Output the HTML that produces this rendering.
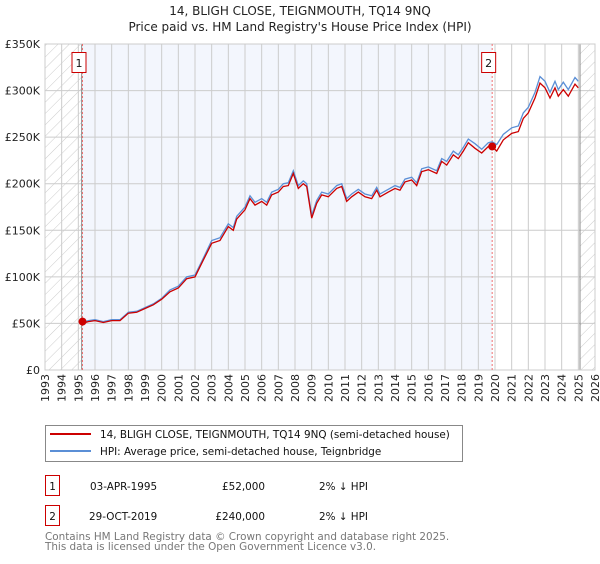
<!DOCTYPE html>
<html><head><meta charset="utf-8">
<style>
body{margin:0;background:#fff;width:600px;height:560px;overflow:hidden;font-family:"DejaVu Sans","Liberation Sans",sans-serif;}
svg text{font-family:"DejaVu Sans","Liberation Sans",sans-serif;}
</style></head>
<body>
<svg id="chart" width="600" height="560">
<defs>
<pattern id="hatch" patternUnits="userSpaceOnUse" width="8" height="8" patternTransform="rotate(45)">
<line x1="0" y1="0" x2="0" y2="8" stroke="#ccc" stroke-width="1"/>
</pattern>
</defs>
<text x="300" y="15" text-anchor="middle" font-size="12" fill="#222">14, BLIGH CLOSE, TEIGNMOUTH, TQ14 9NQ</text>
<text x="300" y="31" text-anchor="middle" font-size="12" fill="#222">Price paid vs. HM Land Registry's House Price Index (HPI)</text>
<g id="plot"></g>
<g>
<rect x="45.5" y="425.5" width="417" height="36" fill="#fff" stroke="#888"/>
<line x1="50" y1="434" x2="91" y2="434" stroke="#cc0000" stroke-width="2"/>
<text x="100" y="438" font-size="10.4" fill="#111">14, BLIGH CLOSE, TEIGNMOUTH, TQ14 9NQ (semi-detached house)</text>
<line x1="50" y1="451" x2="91" y2="451" stroke="#5b8fd6" stroke-width="2"/>
<text x="100" y="455" font-size="10.4" fill="#111">HPI: Average price, semi-detached house, Teignbridge</text>
</g>
<g font-size="10.4" fill="#111">
<rect x="45.5" y="475.5" width="14" height="20" fill="#fff" stroke="#cc0000"/>
<text x="52.5" y="490" text-anchor="middle">1</text>
<text x="90" y="490">03-APR-1995</text>
<text x="265" y="490" text-anchor="end">£52,000</text>
<text x="319" y="490">2% ↓ HPI</text>
<rect x="45.5" y="505.5" width="14" height="20" fill="#fff" stroke="#cc0000"/>
<text x="52.5" y="520" text-anchor="middle">2</text>
<text x="89" y="520">29-OCT-2019</text>
<text x="265" y="520" text-anchor="end">£240,000</text>
<text x="319" y="520">2% ↓ HPI</text>
</g>
<text x="45" y="540" font-size="10.4" fill="#777">Contains HM Land Registry data © Crown copyright and database right 2025.</text>
<text x="45" y="550" font-size="10.4" fill="#777">This data is licensed under the Open Government Licence v3.0.</text>
</svg>
<script>
const years=[1995.25,1995.6,1996,1996.5,1997,1997.5,1998,1998.5,1999,1999.5,2000,2000.5,2001,2001.5,2002,2002.5,2003,2003.5,2004,2004.3,2004.5,2005,2005.3,2005.6,2006,2006.3,2006.6,2007,2007.3,2007.6,2007.9,2008.2,2008.5,2008.7,2009,2009.3,2009.6,2010,2010.5,2010.8,2011.1,2011.4,2011.8,2012.2,2012.6,2012.9,2013.1,2013.6,2014,2014.3,2014.6,2015,2015.3,2015.6,2016,2016.5,2016.8,2017.1,2017.5,2017.8,2018.1,2018.4,2018.8,2019.2,2019.6,2019.83,2020.1,2020.5,2021,2021.4,2021.7,2022,2022.4,2022.7,2023,2023.3,2023.6,2023.8,2024.1,2024.4,2024.8,2025.0];
const priceK=[50,52,53,51,53,53,61,62,66,70,76,84,88,98,100,118,136,139,154,150,162,172,184,177,181,177,188,191,197,198,211,195,200,197,163,179,188,186,195,197,181,186,191,186,184,193,186,191,195,193,202,204,198,213,215,211,224,220,231,227,235,244,238,233,240,240,235,247,254,256,270,276,292,308,303,292,303,294,301,294,307,303];
const hpiK=[51,53,54,52,54,54,62,63,67,71,77,86,90,100,102,120,139,142,157,153,165,175,187,180,184,180,191,194,200,201,214,198,203,200,166,182,191,189,198,200,184,189,194,189,187,196,189,194,198,196,205,207,201,216,218,214,227,224,235,231,239,248,243,237,244,245,242,253,260,262,276,282,298,315,310,298,310,301,309,301,314,310];
const yTicks=[0,50,100,150,200,250,300,350];
const yTickLabels=["£0","£50K","£100K","£150K","£200K","£250K","£300K","£350K"];
const saleYears=[1995.25,2019.83];
const saleK=[52,240];
const saleLabels=["1","2"];

const NS="http://www.w3.org/2000/svg";
const X0=45,X1=595,Y0=370,Y1=44;
const xs=y=>X0+(y-1993)*(X1-X0)/33;
const ys=v=>Y0-v*(Y0-Y1)/350;
const g=document.getElementById('plot');
function mk(t,a){const e=document.createElementNS(NS,t);for(const k in a)e.setAttribute(k,a[k]);g.appendChild(e);return e;}
let e;
e=mk('rect',{x:X0,y:Y1,width:X1-X0,height:Y0-Y1,fill:'#fff'});


e=mk('rect',{x:xs(1995.25),y:Y1,width:xs(2019.83)-xs(1995.25),height:Y0-Y1,fill:'#f3f6fd'});


e=mk('rect',{x:X0,y:Y1,width:xs(1995.2)-X0,height:Y0-Y1,fill:'url(#hatch)'});


e=mk('rect',{x:xs(2025.1),y:Y1,width:X1-xs(2025.1),height:Y0-Y1,fill:'url(#hatch)'});


for(let yr=1993;yr<=2026;yr++){
 e=mk('line',{x1:xs(yr),x2:xs(yr),y1:Y1,y2:Y0,stroke:'#ccc','stroke-width':1});
 
 
 const t=mk('text',{x:0,y:0,'font-size':11,fill:'#222','text-anchor':'end',transform:`translate(${xs(yr)+4},374) rotate(-90)`});
 t.textContent=yr;
 
 
}
yTicks.forEach((v,i)=>{
 e=mk('line',{x1:X0,x2:X1,y1:ys(v),y2:ys(v),stroke:'#ccc','stroke-width':1});
 
 
 const t=mk('text',{x:40,y:ys(v)+4,'font-size':11,fill:'#222','text-anchor':'end'});
 t.textContent=yTickLabels[i];
 
 
});
e=mk('line',{x1:xs(1995.2),x2:xs(1995.2),y1:Y1,y2:Y0,stroke:'#888','stroke-width':1});


e=mk('line',{x1:xs(2025.1),x2:xs(2025.1),y1:Y1,y2:Y0,stroke:'#888','stroke-width':1});


e=mk('rect',{x:X0,y:Y1,width:X1-X0,height:Y0-Y1,fill:'none',stroke:'#ccc'});


saleYears.forEach((yr,i)=>{
 e=mk('line',{x1:xs(yr),x2:xs(yr),y1:Y1,y2:Y0,stroke:'#f07070','stroke-width':1,'stroke-dasharray':'2,2'});
 
 
 e=mk('rect',{x:xs(yr)-10.5,y:52.5,width:14,height:20,fill:'#fff',stroke:'#cc0000'});
 
 
 const t=mk('text',{x:xs(yr)-3.5,y:67,'font-size':11,fill:'#111','text-anchor':'middle'});
 t.textContent=saleLabels[i];
 
 
});
const pts=a=>years.map((yr,i)=>xs(yr).toFixed(1)+','+ys(a[i]).toFixed(1)).join(' ');
e=mk('polyline',{points:pts(hpiK),fill:'none',stroke:'#5b8fd6','stroke-width':1.3});


e=mk('polyline',{points:pts(priceK),fill:'none',stroke:'#cc0000','stroke-width':1.3});


saleYears.forEach((yr,i)=>{
 e=mk('circle',{cx:xs(yr),cy:ys(saleK[i]),r:4,fill:'#cc0000'});
 
 
});
</script>
</body></html>
